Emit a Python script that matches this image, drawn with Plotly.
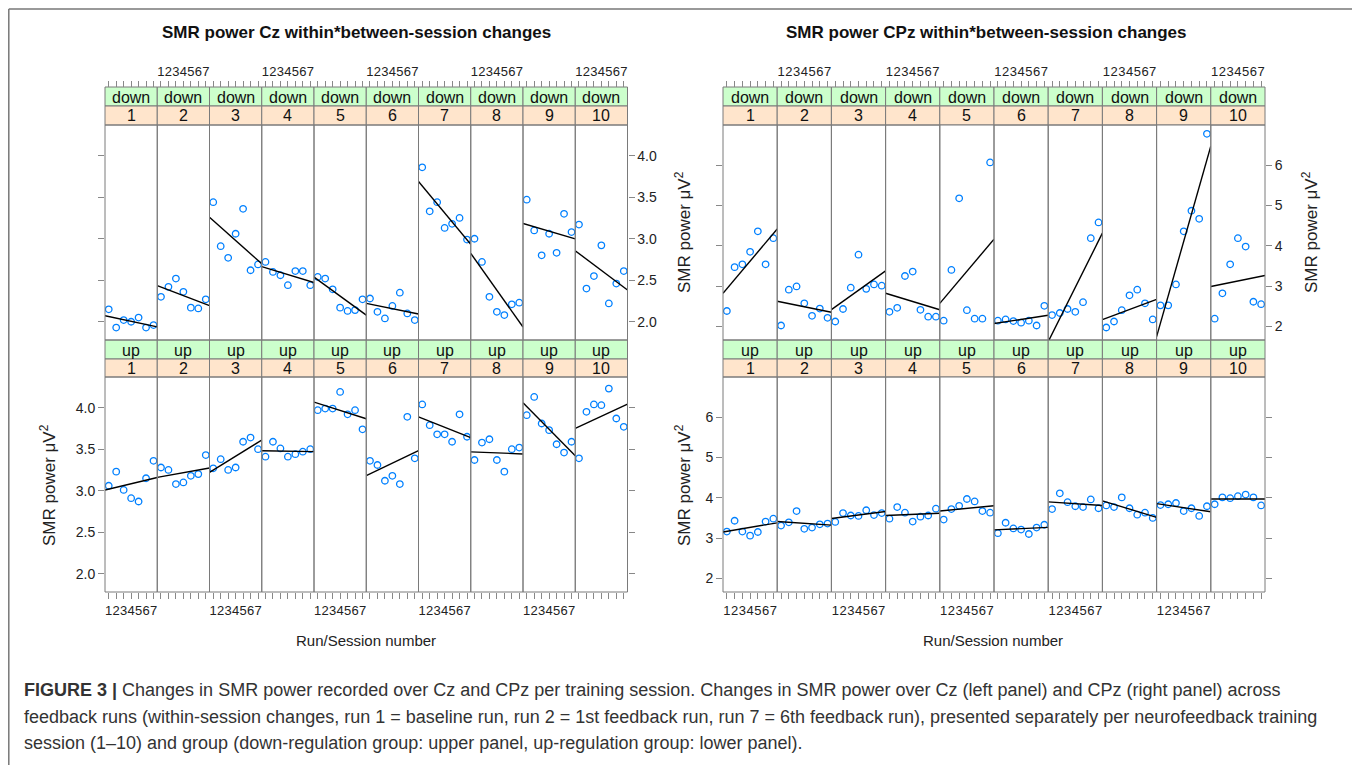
import numpy as np
import plotly.graph_objects as go

W, H = 1360, 765

runs = [1, 2, 3, 4, 5, 6, 7]
run_labels = ["1", "2", "3", "4", "5", "6", "7"]
sessions = ["1", "2", "3", "4", "5", "6", "7", "8", "9", "10"]
groups = ["down", "up"]

cz_down = [
    [2.15, 1.93, 2.02, 2.00, 2.05, 1.93, 1.96],
    [2.30, 2.42, 2.52, 2.36, 2.17, 2.16, 2.27],
    [3.44, 2.91, 2.77, 3.06, 3.36, 2.62, 2.69],
    [2.72, 2.60, 2.56, 2.44, 2.61, 2.61, 2.44],
    [2.54, 2.52, 2.39, 2.17, 2.13, 2.14, 2.27],
    [2.28, 2.12, 2.04, 2.19, 2.35, 2.10, 2.02],
    [3.86, 3.33, 3.44, 3.13, 3.18, 3.25, 2.99],
    [3.00, 2.72, 2.30, 2.12, 2.08, 2.21, 2.23],
    [3.47, 3.10, 2.80, 3.06, 2.83, 3.30, 3.08],
    [3.17, 2.40, 2.55, 2.92, 2.22, 2.46, 2.61],
]
cz_up = [
    [3.06, 3.23, 3.01, 2.91, 2.87, 3.15, 3.36],
    [3.28, 3.25, 3.08, 3.10, 3.18, 3.20, 3.43],
    [3.27, 3.38, 3.25, 3.28, 3.59, 3.64, 3.50],
    [3.41, 3.59, 3.51, 3.41, 3.44, 3.47, 3.50],
    [3.97, 3.99, 3.99, 4.19, 3.92, 3.97, 3.74],
    [3.36, 3.31, 3.12, 3.18, 3.08, 3.89, 3.39],
    [4.04, 3.79, 3.68, 3.68, 3.59, 3.92, 3.65],
    [3.37, 3.58, 3.62, 3.37, 3.23, 3.50, 3.52],
    [3.91, 4.13, 3.81, 3.73, 3.56, 3.46, 3.59],
    [3.39, 3.95, 4.04, 4.03, 4.23, 3.87, 3.77],
]
cpz_down = [
    [2.38, 3.47, 3.54, 3.85, 4.36, 3.54, 4.19],
    [2.02, 2.91, 2.99, 2.57, 2.26, 2.44, 2.21],
    [2.12, 2.43, 2.96, 3.78, 2.93, 3.04, 3.01],
    [2.36, 2.46, 3.25, 3.36, 2.41, 2.24, 2.24],
    [2.14, 3.40, 5.18, 2.40, 2.19, 2.19, 6.07],
    [2.14, 2.17, 2.13, 2.09, 2.14, 2.02, 2.51],
    [2.28, 2.33, 2.43, 2.36, 2.60, 4.19, 4.58],
    [1.97, 2.12, 2.40, 2.77, 2.91, 2.57, 2.17],
    [2.52, 2.52, 3.04, 4.36, 4.87, 4.67, 6.78],
    [2.19, 2.82, 3.54, 4.19, 3.98, 2.61, 2.55],
]
cpz_up = [
    [3.16, 3.43, 3.16, 3.06, 3.15, 3.41, 3.48],
    [3.31, 3.39, 3.67, 3.23, 3.26, 3.34, 3.36],
    [3.40, 3.62, 3.56, 3.55, 3.69, 3.57, 3.62],
    [3.48, 3.77, 3.63, 3.41, 3.53, 3.56, 3.73],
    [3.46, 3.72, 3.80, 3.97, 3.91, 3.67, 3.63],
    [3.12, 3.38, 3.24, 3.21, 3.10, 3.26, 3.33],
    [3.72, 4.11, 3.89, 3.79, 3.77, 3.96, 3.74],
    [3.81, 3.77, 4.01, 3.74, 3.58, 3.63, 3.50],
    [3.82, 3.84, 3.87, 3.67, 3.74, 3.55, 3.79],
    [3.84, 4.01, 3.99, 4.04, 4.08, 4.01, 3.81],
]

cz_ticks = [2.0, 2.5, 3.0, 3.5, 4.0]
cz_ticktext = ["2.0", "2.5", "3.0", "3.5", "4.0"]
cpz_ticks = [2, 3, 4, 5, 6]
cpz_ticktext = ["2", "3", "4", "5", "6"]

titles = ["SMR power Cz within*between-session changes",
          "SMR power CPz within*between-session changes"]
ylab = "SMR power \u03bcV<sup>2</sup>"
xlab = "Run/Session number"
caption_lines = [
    "<b>FIGURE 3 |</b> Changes in SMR power recorded over Cz and CPz per training session. Changes in SMR power over Cz (left panel) and CPz (right panel) across",
    "feedback runs (within-session changes, run 1 = baseline run, run 2 = 1st feedback run, run 7 = 6th feedback run), presented separately per neurofeedback training",
    "session (1\u201310) and group (down-regulation group: upper panel, up-regulation group: lower panel).",
]

FONT = "Liberation Sans, Arial, Helvetica, sans-serif"
PT_COLOR = "#0080ff"
BORDER = "#7a7a7a"
GREEN = "#ccffcc"
PEACH = "#ffe5cc"

# layout geometry (screen pixels)
charts = [
    dict(x0=105.0, x1=627.5, data=[cz_down, cz_up], yr=[1.78, 4.37],
         tv=cz_ticks, tt=cz_ticktext, title_x=357, xlab_x=366),
    dict(x0=723.0, x1=1265.0, data=[cpz_down, cpz_up], yr=[1.66, 7.0],
         tv=cpz_ticks, tt=cpz_ticktext, title_x=986, xlab_x=993),
]
rows = [
    dict(s1=87, s2=106, p0=125, p1=340),
    dict(s1=340, s2=359, p0=377, p1=592),
]
XR = [0.5, 7.5]
OFF = 8  # page body margin


def fx(p):
    return (p - OFF) / W


def fy(p):
    return 1 - (p - OFF) / H


def ann(x, y, text, size, color="#111", **kw):
    d = dict(x=fx(x), y=fy(y), xref="paper", yref="paper", text=text,
             showarrow=False, xanchor="center", yanchor="middle",
             font=dict(family=FONT, size=size, color=color))
    d.update(kw)
    return d


fig = go.Figure()
layout = {}
shapes = []
annotations = []

for ci, ch in enumerate(charts):
    pw = (ch["x1"] - ch["x0"]) / 10
    for ri, rw in enumerate(rows):
        vals = ch["data"][ri]
        for k in range(10):
            idx = ci * 20 + ri * 10 + k + 1
            xa = "x" if idx == 1 else f"x{idx}"
            ya = "y" if idx == 1 else f"y{idx}"
            xkey = "xaxis" if idx == 1 else f"xaxis{idx}"
            ykey = "yaxis" if idx == 1 else f"yaxis{idx}"
            px0 = ch["x0"] + k * pw
            px1 = px0 + pw
            xd = [fx(px0), fx(px1)]
            yd = [fy(rw["p1"]), fy(rw["p0"])]
            xax = dict(domain=xd, range=XR, tickvals=runs, ticktext=run_labels,
                       showgrid=False, zeroline=False, showline=False, tickangle=0,
                       ticks="outside", ticklen=6, tickwidth=1, tickcolor="#888",
                       tickfont=dict(family=FONT, size=13, color="#222"))
            if ri == 0:
                xax.update(anchor="free", position=fy(rw["s1"]), side="top",
                           showticklabels=(k % 2 == 1))
            else:
                xax.update(anchor=ya, side="bottom", showticklabels=(k % 2 == 0))
            yax = dict(domain=yd, range=ch["yr"], anchor=xa, tickvals=ch["tv"],
                       ticktext=ch["tt"], showgrid=False, zeroline=False,
                       showline=False, tickfont=dict(family=FONT, size=14, color="#222"),
                       ticklen=6, tickwidth=1, tickcolor="#888")
            if k == 0:
                yax.update(side="left", ticks="outside", showticklabels=(ri == 1))
            elif k == 9:
                yax.update(side="right", ticks="outside", showticklabels=(ri == 0))
            else:
                yax.update(ticks="", showticklabels=False)
            layout[xkey] = xax
            layout[ykey] = yax

            yv = vals[k]
            fig.add_trace(go.Scatter(
                x=runs, y=yv, xaxis=xa, yaxis=ya, mode="markers",
                marker=dict(symbol="circle-open", size=6.5, color=PT_COLOR,
                            line=dict(width=1.3, color=PT_COLOR)),
                showlegend=False, hoverinfo="skip"))
            slope, icpt = np.polyfit(runs, yv, 1)
            fig.add_trace(go.Scatter(
                x=XR, y=[icpt + slope * XR[0], icpt + slope * XR[1]],
                xaxis=xa, yaxis=ya, mode="lines",
                line=dict(color="black", width=1.4),
                showlegend=False, hoverinfo="skip"))

            # strips
            shapes.append(dict(type="rect", xref="paper", yref="paper",
                               x0=xd[0], x1=xd[1], y0=fy(rw["s2"]), y1=fy(rw["s1"]),
                               fillcolor=GREEN, line=dict(color=BORDER, width=1), layer="below"))
            shapes.append(dict(type="rect", xref="paper", yref="paper",
                               x0=xd[0], x1=xd[1], y0=fy(rw["p0"]), y1=fy(rw["s2"]),
                               fillcolor=PEACH, line=dict(color=BORDER, width=1), layer="below"))
            shapes.append(dict(type="rect", xref="paper", yref="paper",
                               x0=xd[0], x1=xd[1], y0=yd[0], y1=yd[1],
                               fillcolor="rgba(0,0,0,0)", line=dict(color=BORDER, width=1),
                               layer="above"))
            cx = (px0 + px1) / 2
            annotations.append(ann(cx, (rw["s1"] + rw["s2"]) / 2 + 0.5, groups[ri], 16))
            annotations.append(ann(cx, (rw["s2"] + rw["p0"]) / 2 + 0.5, sessions[k], 16))

    annotations.append(ann(ch["title_x"], 33, f"<b>{titles[ci]}</b>", 17))
    annotations.append(ann(ch["xlab_x"], 640, xlab, 15, color="#222"))

# y axis titles
for (xp, yp) in [(48, 485), (683, 232), (1310, 232), (683, 485)]:
    annotations.append(ann(xp, yp, ylab, 17, color="#222", textangle=-90))

# caption
for i, line in enumerate(caption_lines):
    annotations.append(ann(22, 690 + 26.5 * i, line, 18, color="#333", xanchor="left"))

# outer frame (open at the bottom)
FR = dict(color="#777", width=1.5)
fx_l, fx_r, fy_t = 0.8 / W, fx(1354), fy(9)
shapes.append(dict(type="line", xref="paper", yref="paper",
                   x0=fx_l, x1=fx_r, y0=fy_t, y1=fy_t, line=FR))
shapes.append(dict(type="line", xref="paper", yref="paper",
                   x0=fx_l, x1=fx_l, y0=0, y1=fy_t, line=FR))
shapes.append(dict(type="line", xref="paper", yref="paper",
                   x0=fx_r, x1=fx_r, y0=0, y1=fy_t, line=FR))

fig.update_layout(width=W, height=H, margin=dict(l=0, r=0, t=0, b=0),
                  paper_bgcolor="white", plot_bgcolor="white",
                  shapes=shapes, annotations=annotations, showlegend=False,
                  **layout)

fig.write_html("out.html")
